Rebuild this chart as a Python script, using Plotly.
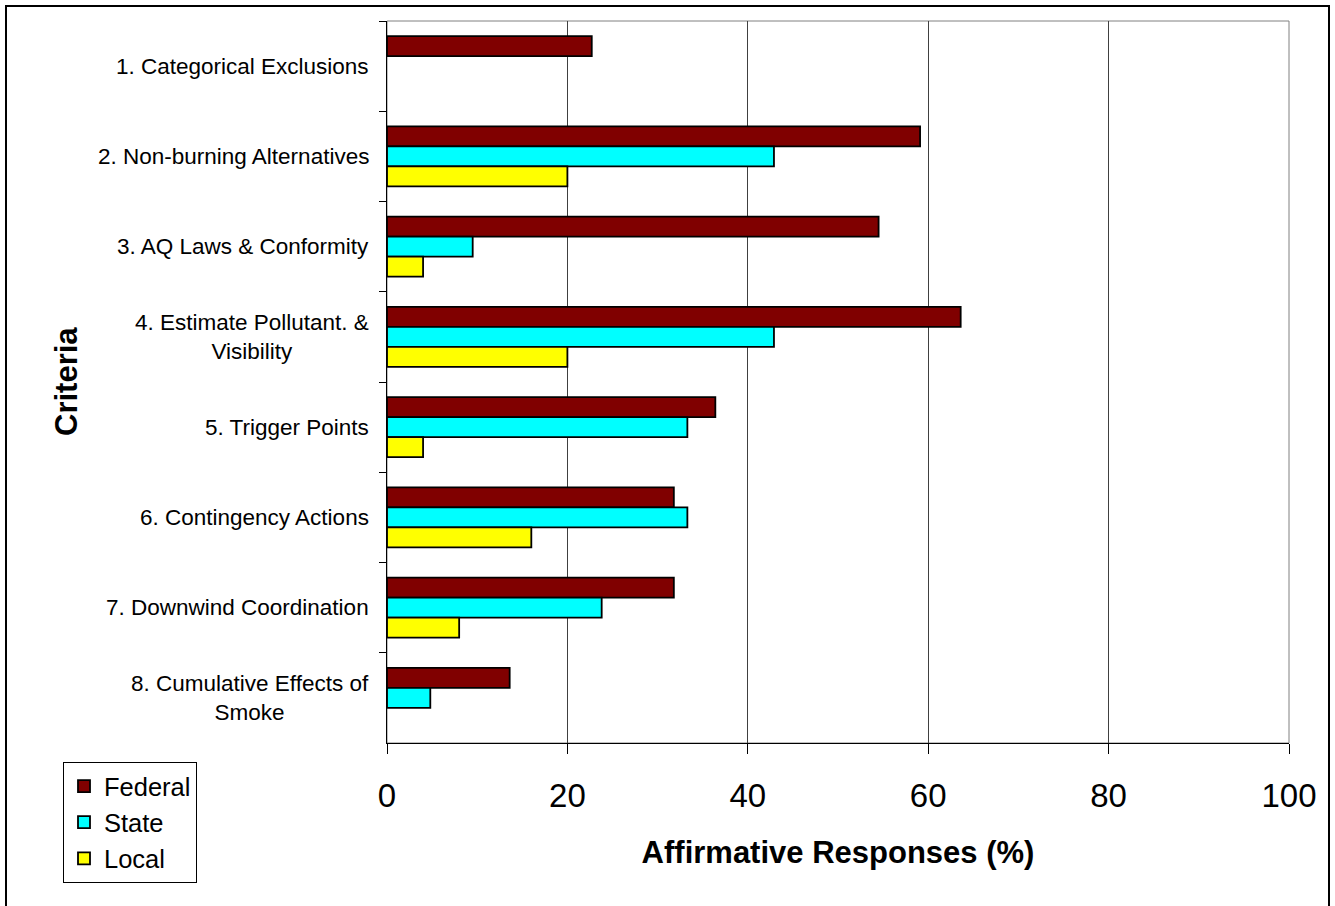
import plotly.graph_objects as go

categories = [
    "1. Categorical Exclusions",
    "2. Non-burning Alternatives",
    "3. AQ Laws & Conformity",
    "4. Estimate Pollutant. &<br>Visibility",
    "5. Trigger Points",
    "6. Contingency Actions",
    "7. Downwind Coordination",
    "8. Cumulative Effects of<br>Smoke",
]
federal = [22.7, 59.1, 54.5, 63.6, 36.4, 31.8, 31.8, 13.6]
state = [0, 42.9, 9.5, 42.9, 33.3, 33.3, 23.8, 4.8]
local = [0, 20.0, 4.0, 20.0, 4.0, 16.0, 8.0, 0]
x_ticks = [0, 20, 40, 60, 80, 100]

FONT = "Arial, Liberation Sans, sans-serif"
W, H = 1335, 906
L, R, T, B = 387, 46, 21, 163
pw, ph = W - L - R, H - T - B

fig = go.Figure()
for name, vals, color in [("Federal", federal, "#800000"),
                          ("State", state, "#00FFFF"),
                          ("Local", local, "#FFFF00")]:
    fig.add_trace(go.Bar(
        y=categories, x=[v if v > 0 else None for v in vals],
        name=name, orientation="h",
        marker=dict(color=color, line=dict(color="black", width=1.8)),
    ))

annotations = []
for c in categories:
    annotations.append(dict(
        x=0, xref="paper", y=c, yref="y", xanchor="right", yanchor="middle",
        xshift=-16, text=c, showarrow=False, align="center",
        font=dict(family=FONT, size=22.5, color="black"),
    ))
annotations.append(dict(
    x=(66 - L) / pw, xref="paper", y=0.5, yref="paper", text="<b>Criteria</b>",
    textangle=-90, showarrow=False, xanchor="center", yanchor="middle",
    font=dict(family=FONT, size=31, color="black"),
))

shapes = [
    dict(type="rect", xref="paper", yref="paper", x0=0, x1=1, y0=0, y1=1,
         line=dict(color="#808080", width=1), layer="below"),
    dict(type="rect", xref="paper", yref="paper",
         x0=(6 - L) / pw, x1=(1329 - L) / pw,
         y0=(T + ph - 912) / ph, y1=(T + ph - 6) / ph,
         line=dict(color="black", width=2), fillcolor="rgba(0,0,0,0)"),
]

fig.update_layout(
    width=W, height=H,
    margin=dict(l=L, r=R, t=T, b=B, autoexpand=False),
    paper_bgcolor="white", plot_bgcolor="white",
    barmode="group", bargap=0.335, bargroupgap=0,
    font=dict(family=FONT, color="black"),
    showlegend=True,
    legend=dict(
        xref="container", yref="container",
        x=63 / W, y=1 - 762 / H, xanchor="left", yanchor="top",
        traceorder="normal",
        bgcolor="white", bordercolor="black", borderwidth=1,
        font=dict(family=FONT, size=25.5, color="black"),
        tracegroupgap=0,
    ),
    annotations=annotations,
    shapes=shapes,
)
fig.update_xaxes(
    range=[0, 100], tickvals=x_ticks, ticktext=[str(v) for v in x_ticks],
    showgrid=True, gridcolor="#404040", gridwidth=1,
    showline=True, linecolor="black", linewidth=1,
    ticks="outside", ticklen=10, tickcolor="black", tickwidth=1,
    tickfont=dict(family=FONT, size=33, color="black"),
    ticklabelstandoff=13,
    zeroline=False,
    title=dict(text="<b>Affirmative Responses (%)</b>", standoff=28,
               font=dict(family=FONT, size=31, color="black")),
    automargin=False,
)
fig.update_yaxes(
    autorange="reversed", type="category",
    showticklabels=False, showgrid=False,
    showline=True, linecolor="black", linewidth=1,
    ticks="outside", ticklen=7, tickcolor="black", tickson="boundaries",
    automargin=False,
)

fig.write_html("out.html",
               config={"displayModeBar": False},
               post_script="document.body.style.margin='0';")
